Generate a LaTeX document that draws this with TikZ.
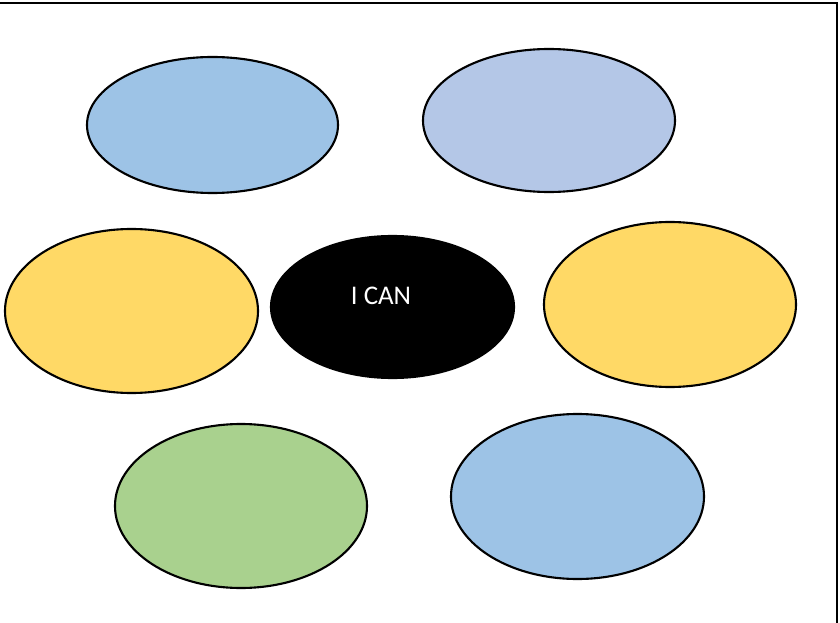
\documentclass[tikz,border=0pt]{standalone}
\usepackage{fontspec}
\usepackage{tikz}
\usetikzlibrary{shapes.geometric}
\newfontfamily\carlito{Carlito}
\definecolor{skyblue}{HTML}{9DC3E6}
\definecolor{lavender}{HTML}{B4C7E7}
\definecolor{goldyellow}{HTML}{FFD966}
\definecolor{leafgreen}{HTML}{A9D18E}
\tikzset{
  bubble/.style={
    shape = ellipse,
    draw,
    line width = 1.8pt,
    inner sep = 0pt
  },
}
\tikzset{
  cantext/.style={
    text = white,
    font = \carlito\fontsize{23}{27}\selectfont,
    inner sep = 0pt
  },
}
\begin{document}
\begin{tikzpicture}[x=0.03cm,y=-0.03cm]
       \useasboundingbox (0,0) rectangle (840,623);

       % frame
       \draw[line width=1.6pt] (0,3) -- (837,3) -- (837,623);

       % top row
       \node[bubble, fill=skyblue, minimum width=7.53cm, minimum height=4.08cm] (topleft) at (212.5,125) {};
       \node[bubble, fill=lavender, minimum width=7.56cm, minimum height=4.29cm] (topright) at (549,120.5) {};

       % middle row
       \node[bubble, fill=goldyellow, minimum width=7.59cm, minimum height=4.92cm] (midleft) at (131.5,311) {};
       \node[bubble, fill=black, minimum width=7.29cm, minimum height=4.26cm] (ican) at (392.5,307) {};
       \node[bubble, fill=goldyellow, minimum width=7.56cm, minimum height=4.95cm] (midright) at (670,304.5) {};

       \node[cantext] (icanlabel) at (381,296) {I CAN};

       % bottom row
       \node[bubble, fill=leafgreen, minimum width=7.56cm, minimum height=4.92cm] (botleft) at (241,506) {};
       \node[bubble, fill=skyblue, minimum width=7.59cm, minimum height=4.95cm] (botright) at (577.5,496.5) {};
\end{tikzpicture}
\end{document}
